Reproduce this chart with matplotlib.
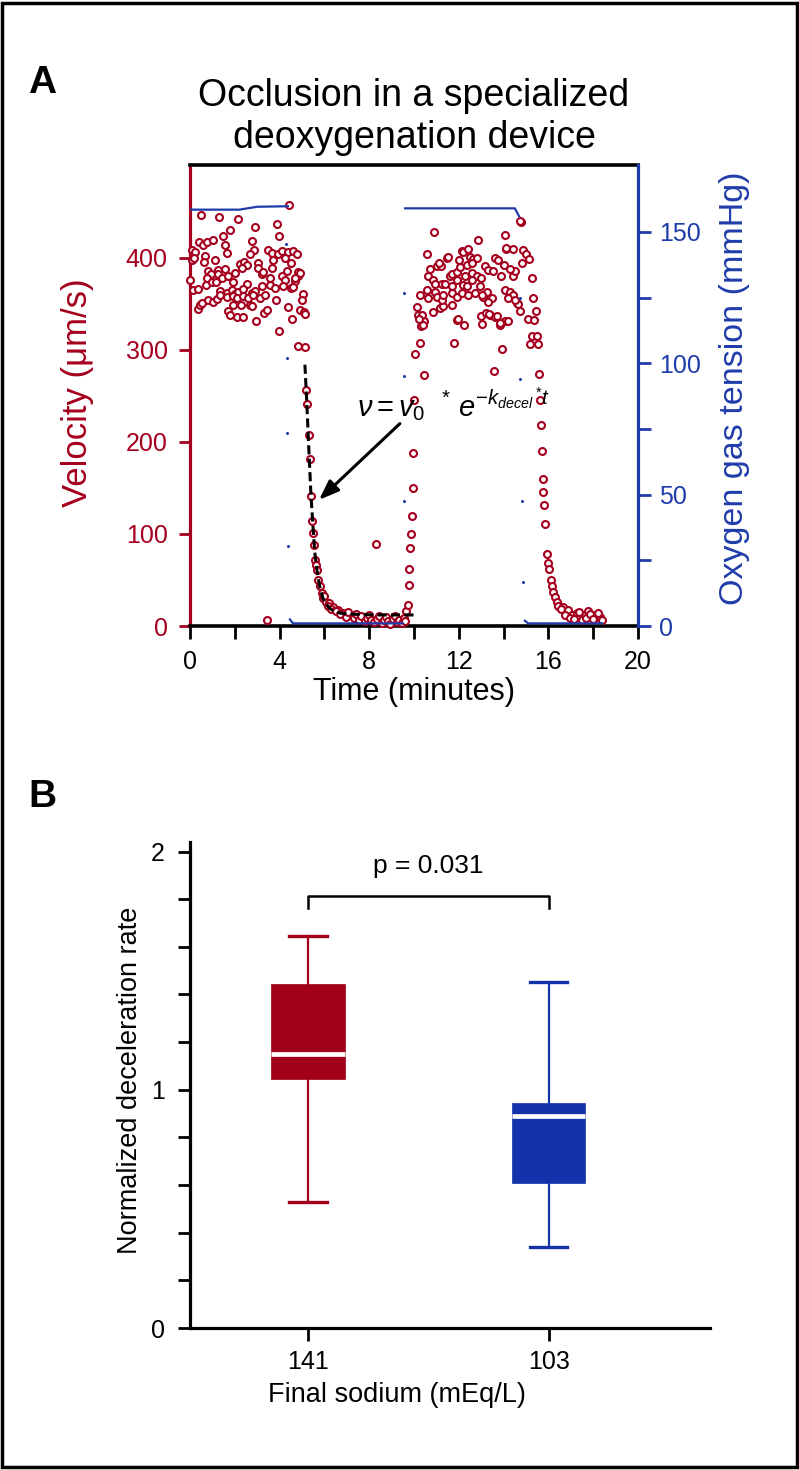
import numpy as np
import matplotlib
matplotlib.use('Agg')
from matplotlib import pyplot as plt
from matplotlib.patches import Rectangle

plt.rcParams['font.family'] = ['Liberation Sans', 'DejaVu Sans']
plt.rcParams['mathtext.fontset'] = 'custom'
plt.rcParams['mathtext.it'] = 'Liberation Sans:italic'
plt.rcParams['mathtext.rm'] = 'Liberation Sans'

RED = '#a5001e'
BLUE = '#1f3caa'
BOX_RED = '#a0001a'
BOX_BLUE = '#1432aa'

# ---- panel A data: velocity (um/s) vs time (min) ----
flow1_t = [0.48,1.28,2.16,2.90,3.87,1.79,3.97,1.46,2.75,0.39,0.57,0.74,1.01,1.56,0.07,0.22,1.64,2.87,2.68,
           3.50,3.67,3.91,4.12,4.39,4.61,4.76,4.51,4.24,0.07,0.19,0.67,0.64,1.12,0.82,0.94,0.74,
           1.27,1.24,1.41,1.56,1.71,1.93,2.01,2.23,2.43,2.53,2.34,3.02,3.05,3.20,3.27,3.65,3.72,3.57,
           4.09,4.24,4.32,2.53,0.00,0.15,0.37,0.70,0.97,1.15,1.34,1.64,1.86,2.00,2.16,2.38,2.75,2.90,
           3.20,3.57,3.79,4.17,4.51,4.69,4.81,0.34,0.45,0.52,0.82,1.04,1.19,1.34,1.64,1.93,2.08,2.38,
           2.60,2.83,3.13,3.35,1.93,2.28,2.68,2.75,1.71,1.79,2.08,2.38,2.95,3.32,3.42,3.83,4.36,4.54,
           3.99,4.81,4.91,5.13,5.03,4.99,5.09,5.13,4.84,4.91,4.69,4.58,4.43,3.45]
flow1_v = [447,444,442,434,437,430,424,424,418,417,414,417,420,414,409,406,405,409,404,
           409,405,404,407,406,408,404,394,400,398,400,402,396,398,386,382,378,
           387,382,378,388,380,374,384,393,396,392,389,394,389,382,385,389,398,378,
           380,376,386,372,376,365,366,371,374,374,364,362,365,361,363,366,362,364,
           369,371,367,369,367,375,380,345,349,351,354,352,355,360,358,359,357,359,
           357,360,357,360,349,349,349,348,342,338,336,336,331,340,343,354,347,334,
           321,304,343,303,361,354,341,339,385,384,378,368,458,6]

decay1_t = [5.16,5.21,5.33,5.36,5.40,5.43,5.48,5.54,5.58,5.63,5.65,5.73,5.80,5.88,5.95,6.07,6.22,6.40,
            6.62,6.85,7.14,6.00,6.15,6.30,6.50,6.70,6.95,7.05,7.30,7.40,7.55,7.65,7.80,7.90,8.00,8.10,
            8.20,8.35,8.45,8.55,8.65,8.75,8.85,8.95,9.05,9.15,9.25,9.35,9.45,9.55,9.60,8.30]
decay1_v = [257,241,208,182,141,114,101,88,72,66,61,50,43,36,30,26,25,21,
            17,14,12,33,22,19,16,13,10,15,9,13,7,11,5,9,12,6,
            4,8,11,3,7,10,5,2,8,11,4,7,3,9,5,89]

flow2_t = [9.64,9.72,9.76,9.78,9.84,9.87,9.93,9.94,9.97,10.00,10.04,10.27,10.46,10.31,10.46,10.20,10.12,
           10.34,10.24,10.42,11.80,11.94,12.25,13.00,13.05,13.39,13.62,13.84,14.06,14.21,13.91,13.59,
           14.58,14.73,14.64,10.87,11.16,11.31,11.68,14.78,14.72,10.90,12.84,14.06,10.57,11.46,11.53,
           12.13,12.20,12.50,12.65,12.80,13.62,13.77,14.10,14.44,10.71,11.01,11.20,10.64,10.87,10.94,
           11.60,11.71,11.90,12.05,12.35,12.57,12.28,12.57,12.80,13.00,13.17,13.32,13.54,13.88,14.44,
           14.51,14.84,14.88,10.27,10.57,10.94,11.24,11.38,11.68,11.90,12.20,12.35,12.57,12.95,13.24,
           13.47,13.09,14.06,14.29,14.44,14.21,14.51,10.64,11.01,11.24,11.31,11.68,11.90,12.13,12.42,
           12.72,13.02,13.30,11.98,13.20,13.37,13.69,13.84,15.10,15.36,15.45,15.30,15.25,15.00,15.15,
           14.09,15.25,15.47,15.20,15.55,14.00,14.30,12.40,12.00,11.10]
flow2_v = [16,23,45,62,85,100,120,150,188,246,296,308,273,326,332,338,347,
           338,334,327,308,333,327,337,328,338,336,327,331,331,301,277,
           351,342,350,341,346,348,349,439,440,428,420,425,404,400,401,
           407,406,401,399,400,400,398,410,410,388,391,391,380,376,372,
           380,383,385,390,392,394,380,384,380,378,391,387,386,380,380,
           386,394,409,360,365,363,372,372,370,376,371,369,376,369,363,
           356,358,365,363,360,356,354,356,358,354,360,362,358,362,360,
           362,360,352,334,340,339,337,329,334,333,342,357,378,404,399,
           411,315,315,307,307,392,388,410,398,395]

decay2_t = [15.58,15.63,15.67,15.70,15.75,15.77,15.82,15.86,15.95,16.00,16.04,16.10,16.15,16.22,16.29,
            16.37,16.44,16.67,16.89,17.04,17.26,17.41,17.63,17.78,17.93,18.13,18.30,18.38,16.55,16.75,
            16.95,17.15,17.35,17.50,17.70,17.85,18.00,18.20]
decay2_v = [274,246,218,190,160,146,131,111,78,68,62,50,43,37,32,
            26,22,21,17,12,14,10,12,16,12,10,9.5,6.5,18,12,
            9,8,15,7,9,13,8,14]

fit_t = [5.13,5.20,5.30,5.40,5.50,5.58,5.70,5.80,5.94,6.05,6.20,6.40,6.70,7.10,7.60,8.50,10.05]
fit_v = [284,250,195,142,105,78,55,42,30,25,20,16.5,14,13,12.5,12,12]

# oxygen gas tension (mmHg)
o2_line_t = [[0.0, 2.2, 3.0, 4.37], [4.46, 4.60, 9.50],
             [9.60, 14.50, 14.69], [14.95, 15.10, 18.40]]
o2_line_v = [[158.5, 158.5, 159.6, 159.8], [2.5, 1.0, 1.0],
             [159.0, 159.0, 156.0], [2.0, 1.0, 1.0]]
o2_dot_t = [4.29, 4.32, 4.32, 4.39, 9.55, 9.55, 9.55, 14.73, 14.73, 14.80, 14.85]
o2_dot_v = [145.3, 102.2, 73.4, 30.4, 126.9, 95.0, 47.5, 125.0, 94.0, 47.6, 16.6]

# ---- panel B data: box statistics ----
sodium_labels = ['141', '103']
box_whislo = [0.53, 0.34]
box_q1 = [1.046, 0.61]
box_med = [1.15, 0.89]
box_q3 = [1.445, 0.945]
box_whishi = [1.647, 1.454]
p_text = 'p = 0.031'

fig = plt.figure(figsize=(7.99, 14.7), dpi=100)

# ---------------- panel A ----------------
ax = fig.add_axes([190/799, 1-626/1470, 448/799, 461/1470])
ax2 = ax.twinx()

for tt, vv in [(flow1_t, flow1_v), (decay1_t, decay1_v), (flow2_t, flow2_v), (decay2_t, decay2_v)]:
    ax.plot(tt, vv, 'o', ms=5.0, mfc='white', mec=RED, mew=1.5, clip_on=False, zorder=3)
ax.plot(fit_t, fit_v, '--', color='black', lw=2.2, dashes=(3, 1.4), zorder=4)
ax.annotate('', xy=(5.67, 135), xytext=(9.46, 222),
            arrowprops=dict(arrowstyle='-|>,head_length=1.2,head_width=0.45', color='black', lw=2.2))
ax.text(7.46, 227, r'$\nu = v_{\mathit{0}}\ \ {}^{*}\ e^{-k_{decel}\,{}^{*}t}$', fontsize=21,
        va='baseline')

for tt, vv in zip(o2_line_t, o2_line_v):
    ax2.plot(tt, vv, '-', color=BLUE, lw=1.6)
ax2.plot(o2_dot_t, o2_dot_v, 'o', ms=2.2, color=BLUE, mec='none')

ax.set_xlim(0, 20)
ax.set_ylim(0, 501)
ax2.set_ylim(0, 175.5)
ax.set_xticks(range(0, 21, 4))
ax.set_xticks(range(2, 20, 4), minor=True)
ax.set_yticks(range(0, 401, 100))
ax2.set_yticks(range(0, 151, 50))
ax2.set_yticks(range(25, 151, 50), minor=True)

ax.spines['left'].set_color(RED)
ax.spines['left'].set_linewidth(2.3)
ax.spines['top'].set_linewidth(2.6)
ax.spines['bottom'].set_linewidth(2.6)
ax.spines['right'].set_visible(False)
for s in ['left', 'top', 'bottom']:
    ax2.spines[s].set_visible(False)
ax2.spines['right'].set_color(BLUE)
ax2.spines['right'].set_linewidth(2.3)

ax.tick_params(axis='y', which='both', colors=RED, length=8, width=2, labelsize=18, pad=8)
ax.tick_params(axis='x', which='both', length=9, width=2, labelsize=18, pad=8)
ax2.tick_params(axis='y', which='both', colors=BLUE, length=9, width=2, labelsize=18, pad=6)

fig.text(77/799, 1-393/1470, 'Velocity (μm/s)', rotation=90, color=RED, fontsize=25,
         ha='center', va='center')
fig.text(735/799, 1-388/1470, 'Oxygen gas tension (mmHg)', rotation=90, color=BLUE, fontsize=24.5,
         ha='center', va='center')
fig.text(414/799, 1-692/1470, 'Time (minutes)', fontsize=22, ha='center', va='center')
fig.text(414/799, 1-117/1470, 'Occlusion in a specialized\ndeoxygenation device', fontsize=27,
         ha='center', va='center', linespacing=1.2)
fig.text(28/799, 1-83/1470, 'A', fontsize=28, fontweight='bold', va='center')

# ---------------- panel B ----------------
axb = fig.add_axes([190/799, 1-1328/1470, 520/799, 486/1470])
for i, col in enumerate([BOX_RED, BOX_BLUE]):
    stats = [dict(med=box_med[i], q1=box_q1[i], q3=box_q3[i],
                  whislo=box_whislo[i], whishi=box_whishi[i], fliers=[])]
    axb.bxp(stats, positions=[i + 1], widths=0.305, capwidths=[0.155], patch_artist=True,
            showfliers=False,
            boxprops=dict(facecolor=col, edgecolor=col, linewidth=0.5),
            medianprops=dict(color='white', linewidth=3.4),
            whiskerprops=dict(color=col, linewidth=1.6),
            capprops=dict(color=col, linewidth=2.4))

axb.plot([1, 1, 2, 2], [1.765, 1.815, 1.815, 1.765], color='black', lw=1.8)
axb.text(1.5, 1.94, p_text, ha='center', va='center', fontsize=19)

axb.set_xlim(0.51, 2.67)
axb.set_ylim(0, 2.04)
axb.set_xticks([1, 2])
axb.set_xticklabels(sodium_labels)
axb.set_yticks([0, 1, 2])
axb.set_yticks(np.arange(0.2, 2.0, 0.2), minor=True)
axb.spines['top'].set_visible(False)
axb.spines['right'].set_visible(False)
axb.spines['left'].set_linewidth(2.3)
axb.spines['bottom'].set_linewidth(2.3)
axb.tick_params(axis='both', which='both', length=9, width=2, labelsize=18)
axb.tick_params(axis='y', pad=9)
axb.tick_params(axis='x', pad=7)

fig.text(130/799, 1-1080/1470, 'Normalized deceleration rate', rotation=90, fontsize=19.5,
         ha='center', va='center')
fig.text(397/799, 1-1395/1470, 'Final sodium (mEq/L)', fontsize=19.5, ha='center', va='center')
fig.text(28/799, 1-797/1470, 'B', fontsize=28, fontweight='bold', va='center')

fig.patches.append(Rectangle((0.003, 0.002), 0.994, 0.996, transform=fig.transFigure,
                             fill=False, ec='black', lw=2.5))

fig.savefig('out.png', dpi=100)
